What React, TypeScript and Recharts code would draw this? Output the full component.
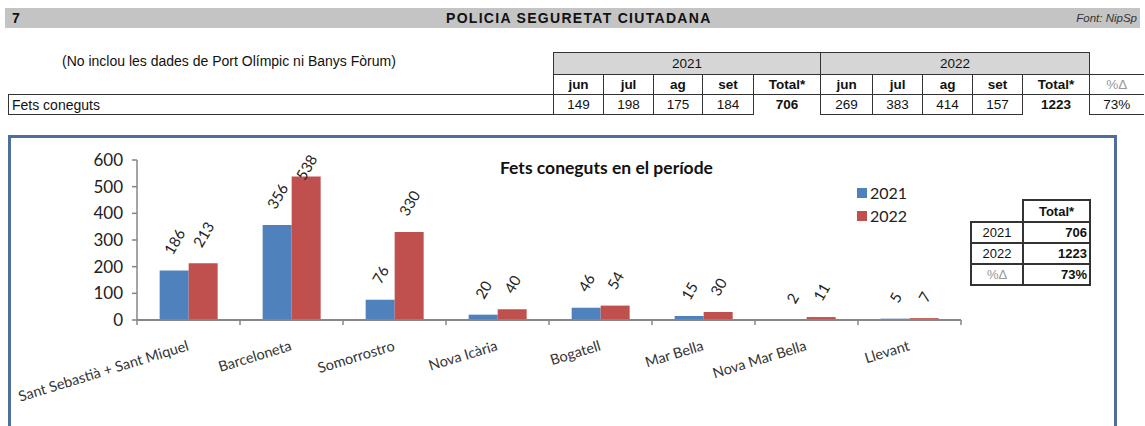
import React from 'react';
import { BarChart, Bar, XAxis, YAxis, LabelList, Legend } from 'recharts';

// barris de la zona litoral
const categories = [
  'Sant Sebastià + Sant Miquel',
  'Barceloneta',
  'Somorrostro',
  'Nova Icària',
  'Bogatell',
  'Mar Bella',
  'Nova Mar Bella',
  'Llevant',
];
const fets2021 = [186, 356, 76, 20, 46, 15, 2, 5];
const fets2022 = [213, 538, 330, 40, 54, 30, 11, 7];
const yTicks = [0, 100, 200, 300, 400, 500, 600];

// resum mensual
const months = ['jun', 'jul', 'ag', 'set'];
const monthly2021 = [149, 198, 175, 184];
const monthly2022 = [269, 383, 414, 157];
const total2021 = 706;
const total2022 = 1223;
const pctChange = '73%';

const BLUE = '#4F81BD';
const RED = '#C0504D';
const AXIS = '#868686';
const CHART_FONT = 'Lato, "Open Sans", sans-serif';
const SHEET_FONT = '"Liberation Sans", Arial, sans-serif';

const CHART_W = 1145;
const CHART_H = 426;
const MARGIN = { top: 160, right: 184, left: 77, bottom: 0 };
const Y_AXIS_W = 60;
const X_AXIS_H = 106;
const PLOT_W = CHART_W - MARGIN.left - MARGIN.right - Y_AXIS_W;
const BAND = PLOT_W / categories.length;
const LABEL_MIN_TOP = 153;

const chartData = categories.map((name, i) => ({
  name,
  y2021: fets2021[i],
  y2022: fets2022[i],
}));

const CategoryTick = (props: any) => {
  const { x, y, payload, index, visibleTicksCount } = props;
  const half = BAND / 2;
  const tx = x + 1;
  const ty = y + 30;
  return (
    <g>
      <line x1={x - half} x2={x - half} y1={y} y2={y + 5} stroke={AXIS} strokeWidth={1.5} />
      {index === visibleTicksCount - 1 && (
        <line x1={x + half} x2={x + half} y1={y} y2={y + 5} stroke={AXIS} strokeWidth={1.5} />
      )}
      <text
        x={tx}
        y={ty}
        transform={`rotate(-17 ${tx} ${ty})`}
        textAnchor="end"
        fontSize={14.5}
        fontFamily={CHART_FONT}
        fill="#333"
      >
        {payload.value}
      </text>
    </g>
  );
};

// etiqueta girada sobre cada barra
const ValueLabel = (props: any) => {
  const vb = props.viewBox ?? props;
  const { x, y, width } = vb;
  const value = props.value;
  const len = String(value).length * 8.7;
  const ang = (60 * Math.PI) / 180;
  const halfExt = (len / 2) * Math.sin(ang) + 5.5 * Math.cos(ang);
  let cy = y - 15 - halfExt;
  cy = Math.max(cy, LABEL_MIN_TOP + halfExt);
  const cx = x + width / 2;
  return (
    <text
      x={cx}
      y={cy}
      transform={`rotate(-60 ${cx} ${cy})`}
      textAnchor="middle"
      dominantBaseline="central"
      fontSize={15}
      fontFamily={CHART_FONT}
      fill="#222"
    >
      {value}
    </text>
  );
};

const LegendBox = () => (
  <div style={{ fontFamily: CHART_FONT, fontSize: 16, color: '#222', lineHeight: '23px' }}>
    {[
      { label: '2021', color: BLUE },
      { label: '2022', color: RED },
    ].map((item) => (
      <div key={item.label} style={{ display: 'flex', alignItems: 'center' }}>
        <span style={{ width: 10, height: 10, background: item.color, marginRight: 3 }} />
        {item.label}
      </div>
    ))}
  </div>
);

const cell: React.CSSProperties = {
  border: '1px solid #333',
  padding: 0,
  height: 19,
  textAlign: 'center',
};

export default function App() {
  return (
    <div
      style={{
        position: 'absolute',
        left: 0,
        top: 0,
        width: 1145,
        height: 426,
        background: '#fff',
        overflow: 'hidden',
        fontFamily: SHEET_FONT,
        color: '#111',
      }}
    >
      {/* capçalera de la fitxa */}
      <div
        style={{
          position: 'absolute',
          left: 5,
          top: 8,
          width: 1135,
          height: 20,
          background: '#C4C4C4',
          fontSize: 14,
          lineHeight: '20px',
        }}
      >
        <span style={{ position: 'absolute', left: 7, fontWeight: 'bold' }}>7</span>
        <span style={{ position: 'absolute', left: 441, fontWeight: 'bold', letterSpacing: 1.3 }}>
          POLICIA SEGURETAT CIUTADANA
        </span>
        <span style={{ position: 'absolute', right: 3, fontStyle: 'italic', fontSize: 11.5, color: '#333' }}>
          Font: NipSp
        </span>
      </div>

      <div style={{ position: 'absolute', left: 62, top: 53, fontSize: 14 }}>
        (No inclou les dades de Port Olímpic ni Banys Fòrum)
      </div>

      {/* taula mensual */}
      <table
        style={{
          position: 'absolute',
          left: 8,
          top: 52,
          width: 1135,
          borderCollapse: 'collapse',
          tableLayout: 'fixed',
          fontSize: 13.5,
        }}
      >
        <colgroup>
          <col style={{ width: 545 }} />
          <col style={{ width: 50 }} />
          <col style={{ width: 50 }} />
          <col style={{ width: 49 }} />
          <col style={{ width: 51 }} />
          <col style={{ width: 67 }} />
          <col style={{ width: 52 }} />
          <col style={{ width: 50 }} />
          <col style={{ width: 50 }} />
          <col style={{ width: 50 }} />
          <col style={{ width: 67 }} />
          <col style={{ width: 54 }} />
        </colgroup>
        <tbody>
          <tr>
            <td style={{ height: 20 }} />
            <td colSpan={5} style={{ ...cell, height: 20, background: '#D6D6D6' }}>2021</td>
            <td colSpan={5} style={{ ...cell, height: 20, background: '#D6D6D6' }}>2022</td>
            <td />
          </tr>
          <tr>
            <td />
            {months.map((m) => (
              <td key={'a' + m} style={{ ...cell, fontWeight: 'bold' }}>{m}</td>
            ))}
            <td style={{ ...cell, fontWeight: 'bold' }}>Total*</td>
            {months.map((m) => (
              <td key={'b' + m} style={{ ...cell, fontWeight: 'bold' }}>{m}</td>
            ))}
            <td style={{ ...cell, fontWeight: 'bold' }}>Total*</td>
            <td style={{ ...cell, borderRight: 'none', color: '#999' }}>%Δ</td>
          </tr>
          <tr>
            <td style={{ ...cell, textAlign: 'left', paddingLeft: 3, fontSize: 14 }}>Fets coneguts</td>
            {monthly2021.map((v, i) => (
              <td key={'c' + i} style={cell}>{v}</td>
            ))}
            <td style={{ ...cell, fontWeight: 'bold', borderBottom: 'none' }}>{total2021}</td>
            {monthly2022.map((v, i) => (
              <td key={'d' + i} style={cell}>{v}</td>
            ))}
            <td style={{ ...cell, fontWeight: 'bold', borderBottom: 'none' }}>{total2022}</td>
            <td style={{ ...cell, borderRight: 'none' }}>{pctChange}</td>
          </tr>
        </tbody>
      </table>

      {/* marc del gràfic */}
      <div
        style={{
          position: 'absolute',
          left: 8,
          top: 135,
          width: 1109,
          height: 300,
          border: '3px solid #4E6E9E',
          boxSizing: 'border-box',
        }}
      />

      <div style={{ position: 'absolute', left: 0, top: 0 }}>
        <BarChart
          width={CHART_W}
          height={CHART_H}
          data={chartData}
          margin={MARGIN}
          barCategoryGap="22%"
          barGap={0}
        >
          <XAxis
            dataKey="name"
            height={X_AXIS_H}
            interval={0}
            tickSize={0}
            tickMargin={0}
            tickLine={false}
            axisLine={{ stroke: AXIS, strokeWidth: 2 }}
            tick={<CategoryTick />}
          />
          <YAxis
            width={Y_AXIS_W}
            domain={[0, 600]}
            ticks={yTicks}
            interval={0}
            tickSize={5}
            tickMargin={9}
            axisLine={{ stroke: AXIS, strokeWidth: 1.5 }}
            tickLine={{ stroke: AXIS, strokeWidth: 1.5 }}
            tick={{ fontSize: 17, fontFamily: CHART_FONT, fill: '#222' }}
          />
          <Legend
            layout="vertical"
            verticalAlign="middle"
            align="center"
            content={<LegendBox />}
            wrapperStyle={{ position: 'absolute', left: 857, top: 181, width: 60 }}
          />
          <Bar dataKey="y2021" name="2021" fill={BLUE} isAnimationActive={false}>
            <LabelList dataKey="y2021" content={<ValueLabel />} />
          </Bar>
          <Bar dataKey="y2022" name="2022" fill={RED} isAnimationActive={false}>
            <LabelList dataKey="y2022" content={<ValueLabel />} />
          </Bar>
        </BarChart>
      </div>

      <div
        style={{
          position: 'absolute',
          left: 500,
          top: 157,
          fontFamily: CHART_FONT,
          fontWeight: 'bold',
          fontSize: 17.5,
          color: '#111',
        }}
      >
        Fets coneguts en el període
      </div>

      {/* quadre de totals */}
      <table
        style={{
          position: 'absolute',
          left: 970,
          top: 199,
          width: 119,
          borderCollapse: 'collapse',
          tableLayout: 'fixed',
          fontSize: 13,
        }}
      >
        <colgroup>
          <col style={{ width: 52 }} />
          <col style={{ width: 67 }} />
        </colgroup>
        <tbody>
          <tr>
            <td style={{ height: 19 }} />
            <td style={{ ...cell, fontWeight: 'bold', borderWidth: 2 }}>Total*</td>
          </tr>
          <tr>
            <td style={{ ...cell, borderWidth: 2 }}>2021</td>
            <td style={{ ...cell, borderWidth: 2, textAlign: 'right', fontWeight: 'bold', paddingRight: 2 }}>{total2021}</td>
          </tr>
          <tr>
            <td style={{ ...cell, borderWidth: 2 }}>2022</td>
            <td style={{ ...cell, borderWidth: 2, textAlign: 'right', fontWeight: 'bold', paddingRight: 2 }}>{total2022}</td>
          </tr>
          <tr>
            <td style={{ ...cell, borderWidth: 2, color: '#999' }}>%Δ</td>
            <td style={{ ...cell, borderWidth: 2, textAlign: 'right', fontWeight: 'bold', paddingRight: 2 }}>{pctChange}</td>
          </tr>
        </tbody>
      </table>
    </div>
  );
}
